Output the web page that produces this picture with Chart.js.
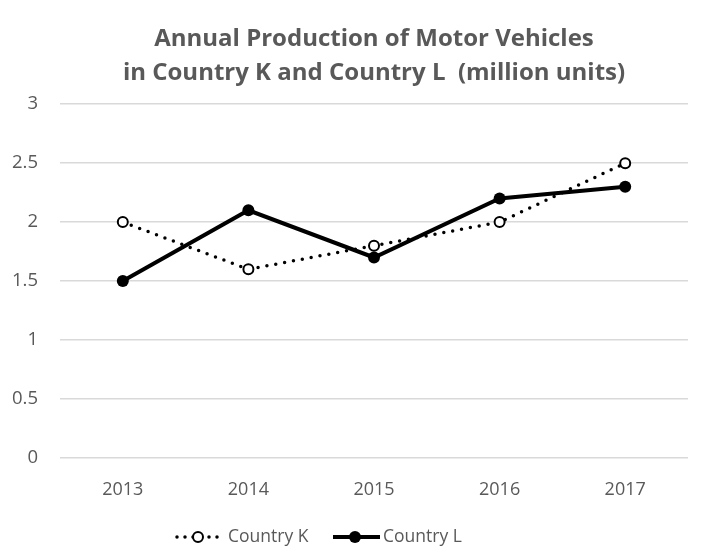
<!DOCTYPE html>
<html>
<head>
<meta charset="utf-8">
<script src="https://cdn.jsdelivr.net/npm/chart.js@4.4.1/dist/chart.umd.min.js"></script>
<style>
    html, body { margin: 0; padding: 0; background: #ffffff; }
    #wrap { width: 704px; height: 558px; }
</style>
</head>
<body>
<div id="wrap"><canvas id="productionChart" width="704" height="558"></canvas></div>
<script>
// Chart data
const years = ['2013', '2014', '2015', '2016', '2017'];
const countryK = [2.0, 1.6, 1.8, 2.0, 2.5];
const countryL = [1.5, 2.1, 1.7, 2.2, 2.3];
const titleLines = ['Annual Production of Motor Vehicles', 'in Country K and Country L  (million units)'];

const textGray = '#595959';
const fontFamily = '"Open Sans", sans-serif';

// Legend drawn by hand so the line style and marker both show
const customLegend = {
    id: 'customLegend',
    afterDraw(chart) {
        const ctx = chart.ctx;
        const y = 537;
        ctx.save();

        // Country K: dotted line with open circle
        ctx.strokeStyle = '#000';
        ctx.lineWidth = 3.5;
        ctx.lineCap = 'round';
        ctx.setLineDash([0, 8]);
        ctx.beginPath();
        ctx.moveTo(177, y);
        ctx.lineTo(219, y);
        ctx.stroke();
        ctx.setLineDash([]);
        ctx.beginPath();
        ctx.arc(198, y, 5, 0, Math.PI * 2);
        ctx.fillStyle = '#fff';
        ctx.fill();
        ctx.lineWidth = 2;
        ctx.stroke();

        // Country L: solid line with filled circle
        ctx.lineCap = 'butt';
        ctx.lineWidth = 4;
        ctx.beginPath();
        ctx.moveTo(333, y);
        ctx.lineTo(380, y);
        ctx.stroke();
        ctx.beginPath();
        ctx.arc(355, y, 6, 0, Math.PI * 2);
        ctx.fillStyle = '#000';
        ctx.fill();

        ctx.fillStyle = textGray;
        ctx.font = '17.5px ' + fontFamily;
        ctx.textBaseline = 'middle';
        ctx.textAlign = 'left';
        ctx.fillText('Country K', 228, y);
        ctx.fillText('Country L', 383, y);
        ctx.restore();
    }
};

const productionCtx = document.getElementById('productionChart').getContext('2d');
const productionChart = new Chart(productionCtx, {
    type: 'line',
    data: {
        labels: years,
        datasets: [{
            label: 'Country K',
            data: countryK,
            borderColor: '#000',
            borderWidth: 3.5,
            borderDash: [0, 9],
            borderCapStyle: 'round',
            pointRadius: 5,
            pointBorderWidth: 2,
            pointBackgroundColor: '#fff',
            pointBorderColor: '#000',
            tension: 0
        }, {
            label: 'Country L',
            data: countryL,
            borderColor: '#000',
            borderWidth: 4,
            pointRadius: 6,
            pointBorderWidth: 0,
            pointBackgroundColor: '#000',
            pointBorderColor: '#000',
            tension: 0
        }]
    },
    options: {
        responsive: false,
        animation: false,
        layout: {
            padding: { top: 0, right: 16, bottom: 48, left: 0 }
        },
        plugins: {
            legend: { display: false },
            tooltip: { enabled: false },
            title: {
                display: true,
                fullSize: false,
                text: titleLines,
                color: textGray,
                font: { family: fontFamily, size: 24, weight: 'bold', lineHeight: 1.42 },
                padding: { top: 22, bottom: 14 }
            }
        },
        scales: {
            x: {
                offset: true,
                grid: { display: false, drawTicks: false },
                border: { display: false },
                ticks: {
                    color: textGray,
                    font: { family: fontFamily, size: 18 },
                    padding: 21
                },
                afterFit: function(scale) {
                    scale.height = 52;
                }
            },
            y: {
                min: 0,
                max: 3,
                grid: { color: '#d9d9d9', lineWidth: 1.5, drawTicks: false },
                border: { display: false },
                ticks: {
                    stepSize: 0.5,
                    color: textGray,
                    font: { family: fontFamily, size: 18.5 },
                    padding: 22,
                    callback: function(value) {
                        return String(value);
                    }
                },
                afterFit: function(scale) {
                    scale.width = 60;
                }
            }
        }
    },
    plugins: [customLegend]
});
</script>
</body>
</html>
